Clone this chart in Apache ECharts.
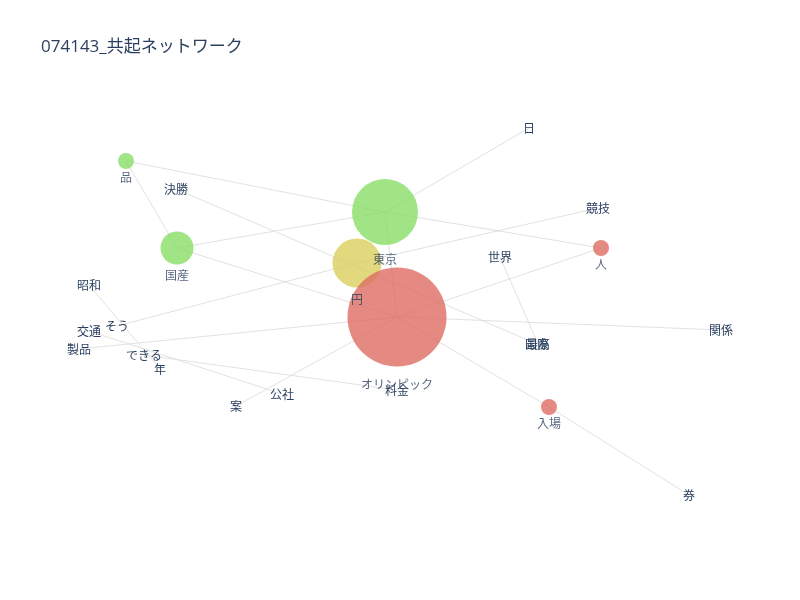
<!DOCTYPE html>
<html lang="ja">
<head>
    <meta charset="UTF-8">
    <title>074143_共起ネットワーク</title>
    <script src="https://cdn.jsdelivr.net/npm/echarts@6/dist/echarts.min.js"></script>
    <style>
        html, body { margin: 0; padding: 0; background: #fff; }
        #network { width: 800px; height: 600px; }
    </style>
</head>
<body>
    <div id="network"></div>

    <script>
        // 語（ノード）: 名前、位置（画像の座標で読み取った値）、出現の大きさ、グループ
        const nodeNames = ['品', '国産', '東京', '円', 'オリンピック', '人', '入場',
            '日', '決勝', '競技', '世界', '昭和', 'そう', '交通', '製品', 'できる', '年',
            '公社', '案', '料金', '関係', '最高', '国際', '券'];
        const nodeX = [126, 177, 385, 357, 397, 601, 549,
            529, 176, 598, 500, 89, 117, 89, 79, 144, 160,
            282, 236, 397, 721, 538, 537, 689];
        const nodeY = [161, 248, 212, 263, 317, 248, 407,
            128, 189, 208, 257, 285, 326, 331, 349, 355, 369,
            394, 406, 390, 330, 344, 344, 495];
        const nodeSizes = [16, 33, 66, 49, 99, 16, 16,
            0, 0, 0, 0, 0, 0, 0, 0, 0, 0,
            0, 0, 0, 0, 0, 0, 0];
        const nodeGroups = ['green', 'green', 'green', 'yellow', 'red', 'red', 'red',
            '', '', '', '', '', '', '', '', '', '',
            '', '', '', '', '', '', ''];

        // 共起関係（エッジ）
        const edgeSources = ['品', '東京', '品', '国産', '国産', '決勝', '東京', '東京', 'そう', '円',
            '昭和', '交通', '製品', 'できる', '案', 'オリンピック', 'オリンピック', 'オリンピック', '入場', '世界'];
        const edgeTargets = ['東京', '人', '国産', '東京', 'オリンピック', '国際', '日', 'オリンピック', '円', '競技',
            '年', '公社', 'オリンピック', '料金', 'オリンピック', '人', '関係', '入場', '券', '最高'];

        const groupColors = {
            green: '#88dd68',
            yellow: '#dbce5c',
            red: '#dd6d63'
        };

        const nodes = nodeNames.map((name, i) => {
            const size = nodeSizes[i];
            const hasMarker = size > 0;
            return {
                name: name,
                value: [nodeX[i], nodeY[i]],
                symbolSize: hasMarker ? size : 0.1,
                itemStyle: hasMarker
                    ? { color: groupColors[nodeGroups[i]], opacity: 0.8 }
                    : { color: 'rgba(0,0,0,0)' },
                label: hasMarker
                    ? { position: 'bottom', distance: 2 + size * 0.11 }
                    : { position: 'inside', offset: [0, 2] }
            };
        });

        const links = edgeSources.map((s, i) => ({ source: s, target: edgeTargets[i] }));

        const option = {
            animation: false,
            title: {
                text: '074143_共起ネットワーク',
                left: 36,
                top: 34,
                textStyle: {
                    fontFamily: '"Open Sans", "Noto Sans CJK JP", sans-serif',
                    fontSize: 17,
                    fontWeight: 'normal',
                    color: '#2a3f5f'
                }
            },
            grid: { left: 0, right: 0, top: 0, bottom: 0 },
            xAxis: { type: 'value', min: 0, max: 800, show: false },
            yAxis: { type: 'value', min: 0, max: 600, inverse: true, show: false },
            series: [{
                type: 'graph',
                coordinateSystem: 'cartesian2d',
                layout: 'none',
                symbol: 'circle',
                label: {
                    show: true,
                    color: '#2a3f5f',
                    fontSize: 12,
                    fontFamily: '"Open Sans", "Noto Sans CJK JP", sans-serif'
                },
                lineStyle: {
                    color: '#d9d9d9',
                    width: 1,
                    opacity: 0.8,
                    curveness: 0
                },
                emphasis: { disabled: true },
                data: nodes,
                links: links
            }]
        };

        const chart = echarts.init(document.getElementById('network'));
        chart.setOption(option);
    </script>
</body>
</html>
